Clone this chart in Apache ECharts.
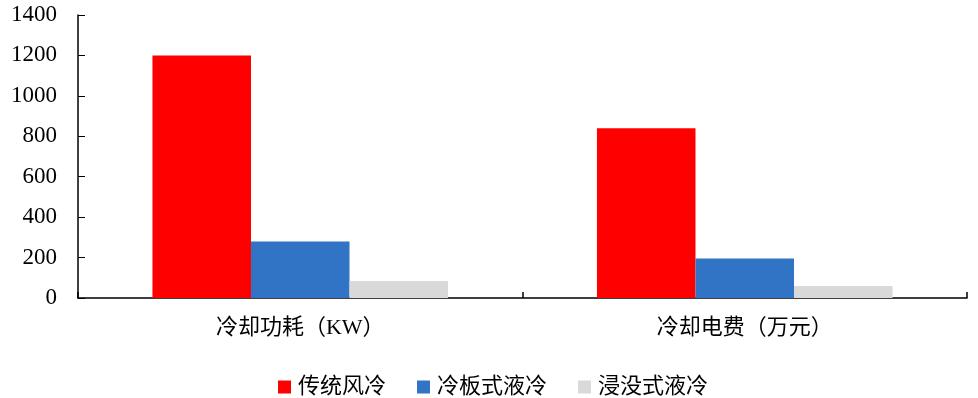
<!DOCTYPE html>
<html>
<head>
<meta charset="utf-8">
<script src="https://cdn.jsdelivr.net/npm/echarts@6/dist/echarts.min.js"></script>
<style>
  html, body { margin: 0; padding: 0; background: #fff; }
  #chart { width: 978px; height: 398px; }
</style>
</head>
<body>
<div id="chart"></div>
<script>
// Cooling comparison: power draw and electricity cost by cooling method
const categories = ['冷却功耗（KW）', '冷却电费（万元）'];
const seriesNames = ['传统风冷', '冷板式液冷', '浸没式液冷'];
const airCooling = [1200, 840];
const coldPlate = [280, 195];
const immersion = [84, 59];
const yTicks = { min: 0, max: 1400, interval: 200 };

const colors = ['#FF0000', '#3174C5', '#D9D9D9'];
const valueSets = [airCooling, coldPlate, immersion];
const fontFamily = "'Liberation Serif', 'Noto Sans CJK SC', serif";

const chart = echarts.init(document.getElementById('chart'), null, { renderer: 'canvas' });

chart.setOption({
  animation: false,
  textStyle: { fontFamily: fontFamily },
  grid: { left: 78, right: 11, top: 15, bottom: 100, containLabel: false },
  legend: {
    data: seriesNames,
    top: 371,
    left: 273,
    padding: 5,
    itemWidth: 13,
    itemHeight: 13,
    itemGap: 31,
    icon: 'rect',
    textStyle: { fontSize: 22, color: '#000', fontFamily: fontFamily, padding: [0, 0, 0, 2] }
  },
  xAxis: {
    type: 'category',
    data: categories,
    axisLine: { lineStyle: { color: '#000', width: 1.5 } },
    axisTick: { show: true, inside: true, length: 6, lineStyle: { color: '#000', width: 1.5 } },
    axisLabel: { fontSize: 22, color: '#000', margin: 19, fontFamily: fontFamily }
  },
  yAxis: {
    type: 'value',
    min: yTicks.min,
    max: yTicks.max,
    interval: yTicks.interval,
    splitLine: { show: false },
    axisLine: { show: true, lineStyle: { color: '#000', width: 1.5 } },
    axisTick: { show: true, inside: true, length: 7, lineStyle: { color: '#000', width: 1 } },
    axisLabel: {
      fontSize: 23,
      color: '#000',
      margin: 21,
      fontFamily: fontFamily,
      formatter: (v) => String(v)
    }
  },
  series: seriesNames.map((name, i) => ({
    name: name,
    type: 'bar',
    data: valueSets[i],
    barGap: '0%',
    barCategoryGap: '33.5%',
    itemStyle: { color: colors[i] }
  }))
});
</script>
</body>
</html>
